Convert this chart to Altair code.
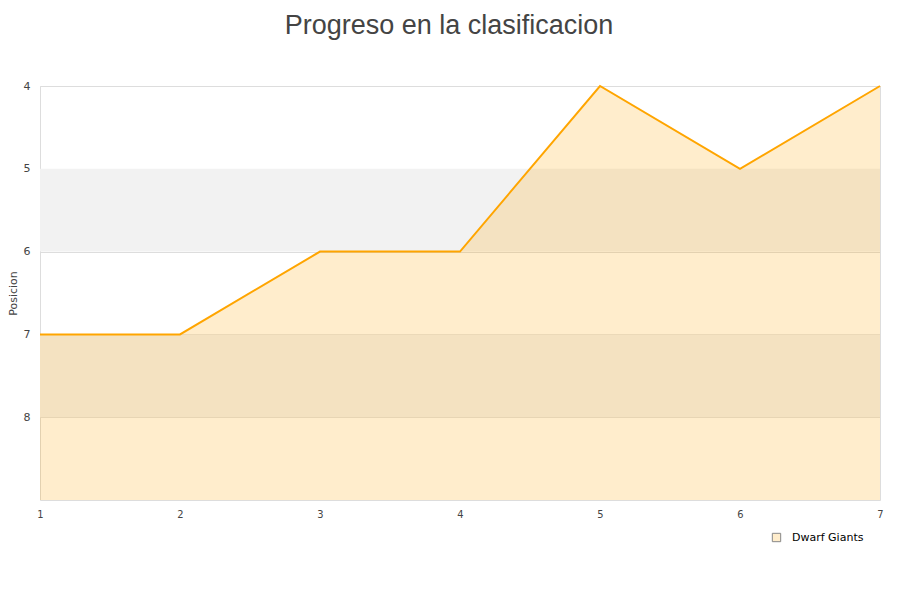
import altair as alt
import pandas as pd

jornadas = [1, 2, 3, 4, 5, 6, 7]
posiciones = [7, 7, 6, 6, 4, 5, 4]
equipo = "Dwarf Giants"
band_start = [5, 7]
band_end = [6, 8]

df = pd.DataFrame({"jornada": jornadas, "posicion": posiciones, "equipo": [equipo] * len(jornadas), "base": [9] * len(jornadas)})
bands = pd.DataFrame({"y": band_start, "y2": band_end})

W, H = 840, 414
xs = alt.Scale(domain=[1, 7], nice=False, zero=False)
ys = alt.Scale(domain=[4, 9], nice=False, zero=False, reverse=True)

band_layer = alt.Chart(bands).mark_rect(color="#f2f2f2").encode(
    y=alt.Y("y:Q", scale=ys),
    y2="y2:Q",
    x=alt.value(0),
    x2=alt.value(W),
)

area = alt.Chart(df).mark_area(color="#ffa500", opacity=0.2).encode(
    x=alt.X("jornada:Q", scale=xs),
    y=alt.Y("posicion:Q", scale=ys),
    y2="base:Q",
)

line = alt.Chart(df).mark_line(color="#ffa500", strokeWidth=2).encode(
    x=alt.X("jornada:Q", scale=xs, title=None,
            axis=alt.Axis(values=jornadas, format="d", ticks=False, domain=False, grid=False,
                          labelFlush=False,
                          labelFont="DejaVu Sans Condensed", labelFontSize=11, labelColor="#444",
                          labelPadding=8)),
    y=alt.Y("posicion:Q", scale=ys, title="Posicion",
            axis=alt.Axis(values=[4, 5, 6, 7, 8], format="d", ticks=False, domain=False,
                          grid=True, gridColor="#dddddd", labelFont="DejaVu Sans",
                          labelFontSize=11, labelColor="#444", labelPadding=10,
                          titleFont="DejaVu Sans", titleFontSize=11, titleFontWeight="normal",
                          titleColor="#444", titlePadding=5)),
)

legend_layer = alt.Chart(df).mark_square(filled=True, stroke="#888888", strokeWidth=1, opacity=1).encode(
    x=alt.X("jornada:Q", scale=xs),
    y=alt.Y("posicion:Q", scale=ys),
    size=alt.value(0),
    color=alt.Color("equipo:N", scale=alt.Scale(range=["#ffedcc"]),
                    legend=alt.Legend(title=None, orient="none", legendX=731, legendY=446,
                                      symbolType="square", symbolSize=70,
                                      symbolFillColor="#ffedcc", symbolStrokeColor="#888888",
                                      symbolStrokeWidth=1, symbolOpacity=1, labelOffset=10,
                                      labelFont="DejaVu Sans", labelFontSize=11, labelColor="#000")),
)

chart = alt.layer(band_layer, area, line, legend_layer).properties(
    width=W, height=H,
    autosize=alt.AutoSizeParams(type="none"),
    padding={"left": 32, "top": 78, "right": 12, "bottom": 100},
    title=alt.TitleParams("Progreso en la clasificacion", font="Liberation Sans", fontSize=27,
                          fontWeight="normal", color="#444", anchor="middle", offset=40, dx=-11),
).configure_view(stroke="#dddddd", strokeWidth=1)

chart.save("out.html", embed_options={"renderer": "svg", "actions": False})
